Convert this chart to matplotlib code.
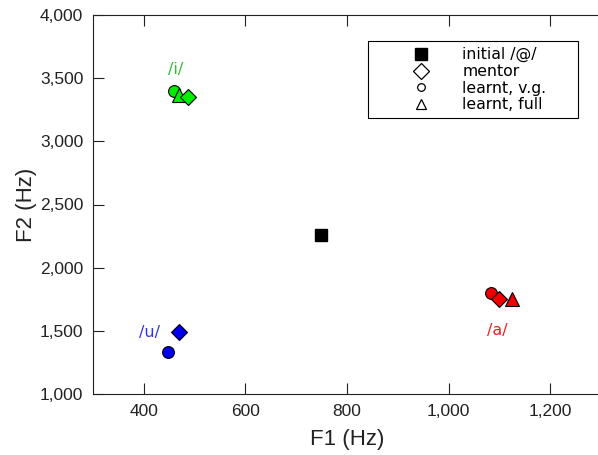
import matplotlib
matplotlib.use("Agg")
import matplotlib.pyplot as plt
from matplotlib.lines import Line2D

# formant values (Hz)
initial_f1 = [749]
initial_f2 = [2258]

vowels = ["/i/", "/u/", "/a/"]
colors = ["#00ee00", "#0000ee", "#ee0000"]
label_colors = ["#33bb33", "#3333ee", "#ee2222"]
mentor_f1 = [487, 469, 1100]
mentor_f2 = [3347, 1490, 1751]
vg_f1 = [460, 448, 1084]
vg_f2 = [3398, 1332, 1799]
full_f1 = [469, None, 1124]
full_f2 = [3363, None, 1751]
label_x = [463, 412, 1096]
label_y = [3565, 1490, 1506]

fig = plt.figure(figsize=(5.98, 4.55), dpi=100)
ax = fig.add_axes([93 / 598, 61 / 455, 508 / 598, 379 / 455])

for i, v in enumerate(vowels):
    ax.plot(vg_f1[i], vg_f2[i], 'o', ms=8.5, mfc=colors[i], mec='black', mew=0.8, zorder=3)
    if full_f1[i] is not None:
        ax.plot(full_f1[i], full_f2[i], '^', ms=9.5, mfc=colors[i], mec='black', mew=0.8, zorder=4)
    ax.plot(mentor_f1[i], mentor_f2[i], 'D', ms=8, mfc=colors[i], mec='black', mew=0.8, zorder=5)
    ax.text(label_x[i], label_y[i], v, color=label_colors[i], fontsize=11.5,
            ha='center', va='center', family='DejaVu Sans')

ax.plot(initial_f1, initial_f2, 's', ms=9, mfc='black', mec='black', zorder=5)

ax.set_xlim(300, 1300)
ax.set_ylim(1000, 4000)
ax.set_xticks([400, 600, 800, 1000, 1200])
ax.set_yticks([1000, 1500, 2000, 2500, 3000, 3500, 4000])
ax.set_xticklabels(['400', '600', '800', '1,000', '1,200'])
ax.set_yticklabels(['1,000', '1,500', '2,000', '2,500', '3,000', '3,500', '4,000'])
ax.tick_params(direction='in', length=8, width=0.8, top=True, labelsize=12.5, pad=7,
               colors='#222222', labelcolor='#222222')
for lab in ax.get_xticklabels() + ax.get_yticklabels():
    lab.set_family('Liberation Sans')
for s in ax.spines.values():
    s.set_linewidth(0.8)
    s.set_color('#222222')
ax.set_xlabel('F1 (Hz)', fontsize=16, family='Liberation Sans', labelpad=7.5, color='#222222')
ax.set_ylabel('F2 (Hz)', fontsize=16, family='Liberation Sans', labelpad=2, color='#222222')

handles = [
    Line2D([], [], ls='', marker='s', ms=8, mfc='black', mec='black'),
    Line2D([], [], ls='', marker='D', ms=8, mfc='white', mec='black', mew=0.9),
    Line2D([], [], ls='', marker='o', ms=5.5, mfc='white', mec='black', mew=0.9),
    Line2D([], [], ls='', marker='^', ms=6.5, mfc='white', mec='black', mew=0.9),
]
leg = ax.legend(handles, ['initial /@/', 'mentor', 'learnt, v.g.', 'learnt, full'],
                loc='upper left', bbox_to_anchor=(0.5413, 0.6887, 0.4134, 0.2427),
                mode='expand', fancybox=False, framealpha=1, edgecolor='black',
                borderpad=0.4, handletextpad=-0.3, borderaxespad=0, labelspacing=0.1,
                handlelength=5.9, prop={'family': 'DejaVu Sans', 'size': 11.3})
leg.get_frame().set_linewidth(0.8)

fig.savefig('out.png', dpi=100)
